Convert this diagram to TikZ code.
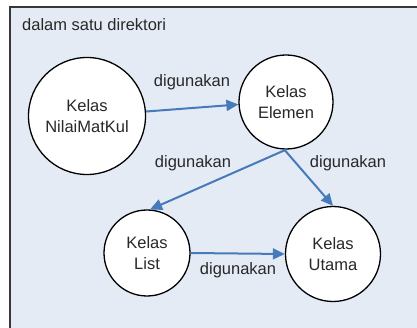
\documentclass[tikz,border=0pt]{standalone}
\usepackage{fontspec}
\setmainfont{Liberation Sans}
\usetikzlibrary{arrows.meta, positioning}
\definecolor{dirbg}{RGB}{229,235,245}
\definecolor{dirline}{RGB}{55,55,55}
\definecolor{useblue}{RGB}{70,122,186}
\definecolor{txtgray}{RGB}{40,40,40}
\tikzset{
  %class node style
  kelas/.style={
    draw=black
    , fill=white
    , circle
    , line width=1.3pt
    , align=center
    , text=txtgray
    , inner sep=0pt
  },
  %"uses" connector
  uses/.style={
    draw=useblue
    , line width=2pt
    , -{Triangle[length=12pt,width=11pt]}
  },
}

\begin{document}
\begin{tikzpicture}[x=1pt, y=-1pt, font=\fontsize{16.5}{20.5}\selectfont]
  \tikzstyle{lbl}=[text=txtgray, inner sep=1pt]
  \useasboundingbox (0,0) rectangle (417,328);
  \clip (0,0) rectangle (417,328);

  % directory frame
  \fill [dirbg] (10,7) rectangle (430,340);
  \draw [dirline, line width=1.2pt] (10,340) -- (10,7) -- (430,7);
  \node [lbl, anchor=west] (dir) at (21,25) {dalam satu direktori};

  % classes
  \node [kelas, minimum size=117pt] (nmk) at (87,116) {Kelas\\NilaiMatKul};
  \node [kelas, minimum size=94pt] (elm) at (286,102) {Kelas\\Elemen};
  \node [kelas, minimum size=86pt] (lst) at (147,253) {Kelas\\List};
  \node [kelas, minimum size=95pt] (utm) at (333,254) {Kelas\\Utama};

  % usage arrows
  \draw [uses] (nmk) -- (elm.183);
  \draw [uses] (elm.south) -- (lst.86);
  \draw [uses] (elm.268) -- (utm.north);
  \draw [uses] (lst.east) -- (utm.west);

  \node [lbl] (u1) at (192,82) {digunakan};
  \node [lbl] (u2) at (193,163) {digunakan};
  \node [lbl] (u3) at (348,163) {digunakan};
  \node [lbl] (u4) at (238,270) {digunakan};

\end{tikzpicture}
\end{document}
